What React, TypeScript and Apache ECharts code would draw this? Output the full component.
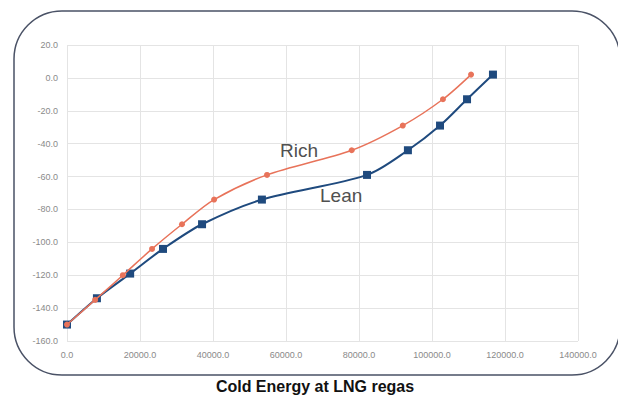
import React, { useEffect, useRef } from "react";
import * as echarts from "echarts";

const richX = [0, 7700, 15300, 23300, 31500, 40300, 54800, 78000, 92000, 103000, 110700];
const richY = [-150, -135, -120, -104, -89, -74, -59, -44, -29, -13, 2];
const leanX = [0, 8200, 17300, 26300, 37000, 53400, 82200, 93400, 102200, 109600, 116700];
const leanY = [-150, -134, -119, -104, -89, -74, -59, -44, -29, -13, 2];
const title = "Cold Energy at LNG regas";
const seriesLabels = ["Rich", "Lean"];

export default function App() {
  const ref = useRef<HTMLDivElement>(null);
  useEffect(() => {
    const chart = echarts.init(ref.current!, null, { renderer: "svg" });
    const rich = richX.map((x, i) => [x, richY[i]]);
    const lean = leanX.map((x, i) => [x, leanY[i]]);
    chart.setOption({
      animation: false,
      backgroundColor: "#ffffff",
      grid: { left: 67, right: 40, top: 45, bottom: 54 },
      xAxis: {
        type: "value",
        min: 0,
        max: 140000,
        interval: 20000,
        axisLine: { show: false },
        axisTick: { show: false },
        splitLine: { show: true, lineStyle: { color: "#e4e4e4", width: 1 } },
        axisLabel: {
          color: "#8a8a8a",
          fontSize: 9,
          fontFamily: "Liberation Sans, Arial, sans-serif",
          margin: 9,
          formatter: (v: number) => v.toFixed(1),
        },
      },
      yAxis: {
        type: "value",
        min: -160,
        max: 20,
        interval: 20,
        axisLine: { show: false },
        axisTick: { show: false },
        splitLine: { show: true, lineStyle: { color: "#e4e4e4", width: 1 } },
        axisLabel: {
          color: "#8a8a8a",
          fontSize: 9,
          fontFamily: "Liberation Sans, Arial, sans-serif",
          margin: 9,
          formatter: (v: number) => v.toFixed(1),
        },
      },
      series: [
        {
          name: "Rich",
          type: "line",
          data: rich,
          smooth: 0.3,
          symbol: "circle",
          symbolSize: 6,
          lineStyle: { color: "#e8735a", width: 1.5 },
          itemStyle: { color: "#e8735a" },
          z: 3,
        },
        {
          name: "Lean",
          type: "line",
          data: lean,
          smooth: 0.3,
          symbol: "rect",
          symbolSize: 8,
          lineStyle: { color: "#1f4a7e", width: 2 },
          itemStyle: { color: "#1f4a7e" },
          z: 2,
        },
      ],
      graphic: [
        {
          type: "rect",
          shape: { x: 14, y: 11, width: 606, height: 364, r: 48 },
          style: { fill: "none", stroke: "#4a5266", lineWidth: 1.5 },
          silent: true,
          z: 0,
        },
        {
          type: "text",
          x: 280,
          y: 141,
          z: 100,
          style: {
            text: seriesLabels[0],
            fill: "#505050",
            fontSize: 19,
            fontFamily: "Liberation Sans, Arial, sans-serif",
          },
        },
        {
          type: "text",
          x: 320,
          y: 186,
          z: 100,
          style: {
            text: seriesLabels[1],
            fill: "#505050",
            fontSize: 19,
            fontFamily: "Liberation Sans, Arial, sans-serif",
          },
        },
        {
          type: "text",
          x: 315,
          y: 386,
          z: 100,
          style: {
            text: title,
            fill: "#111111",
            fontSize: 16,
            fontWeight: "bold",
            fontFamily: "Liberation Sans, Arial, sans-serif",
            align: "center",
            verticalAlign: "middle",
          },
        },
      ],
    });
    return () => chart.dispose();
  }, []);
  return (
    <div
      ref={ref}
      style={{ position: "fixed", left: 0, top: 0, width: 618, height: 395 }}
    />
  );
}
